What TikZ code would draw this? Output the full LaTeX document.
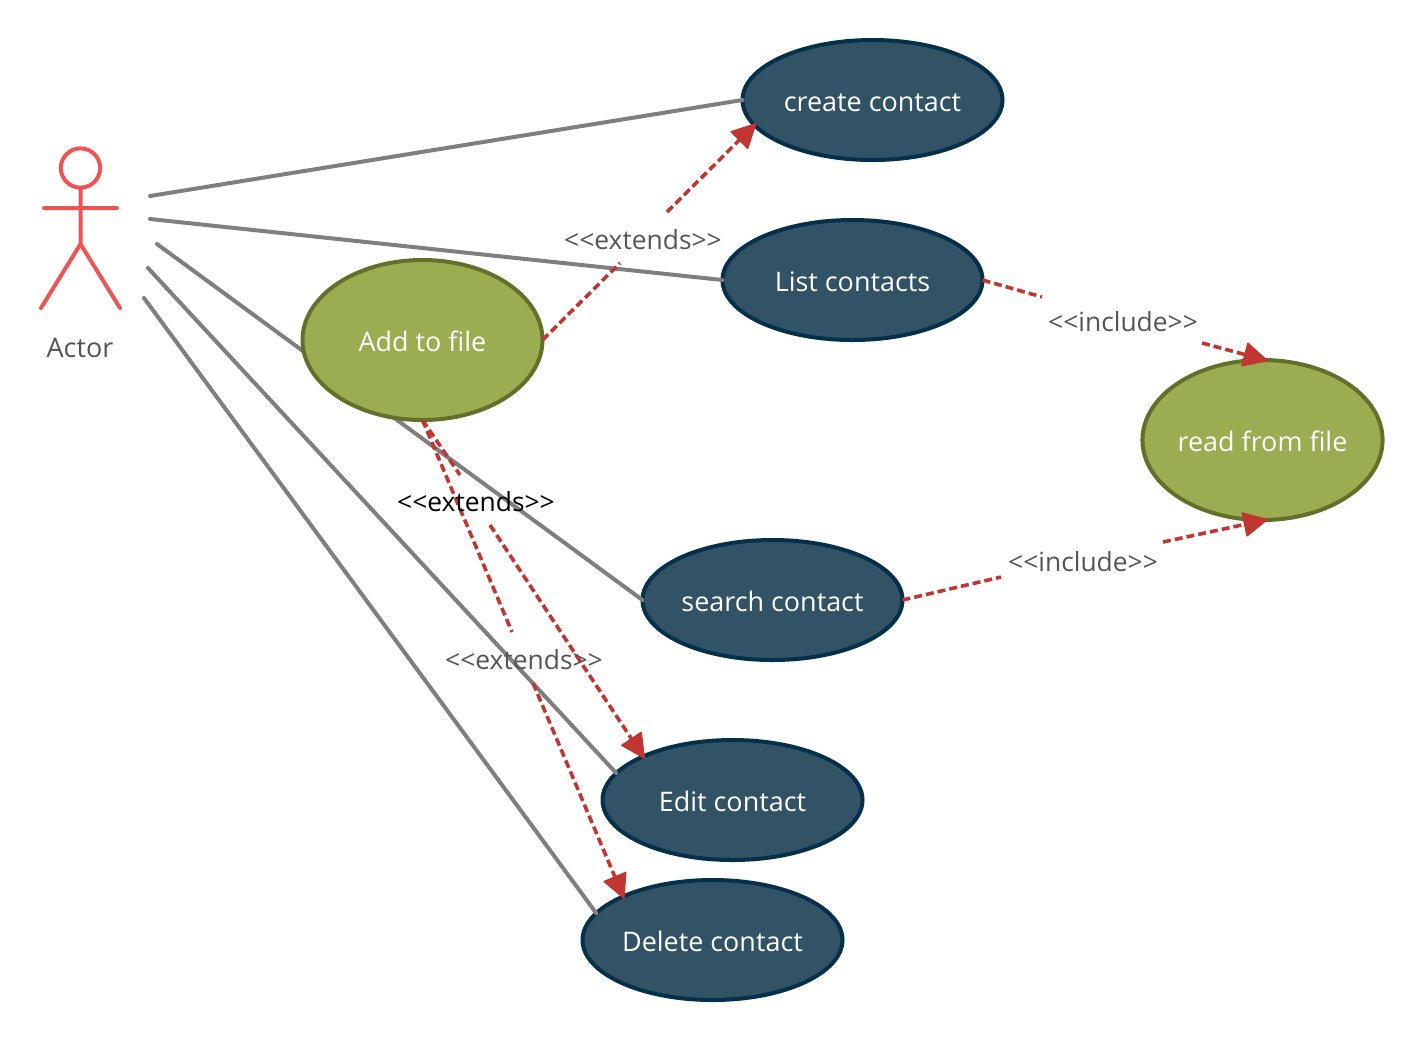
\documentclass[tikz,border=0pt]{standalone}
\usepackage{fontspec}
\setmainfont{Open Sans}
\usetikzlibrary{arrows.meta,shapes.geometric}
\definecolor{usecase}{HTML}{315365}
\definecolor{usecaseline}{HTML}{04304A}
\definecolor{filecase}{HTML}{9BAD51}
\definecolor{fileline}{HTML}{63702A}
\definecolor{redline}{HTML}{C13631}
\definecolor{actorline}{HTML}{EF5455}
\definecolor{assocline}{HTML}{7F7F7F}
\definecolor{labeltext}{HTML}{555555}
\tikzset{
	usebox/.style={ellipse,draw=usecaseline,fill=usecase,line width=3pt,minimum width=195pt,minimum height=90pt,text=white,inner sep=0pt,outer sep=0pt,text height=17pt,text depth=0pt},
	filebox/.style={ellipse,draw=fileline,fill=filecase,line width=3pt,minimum width=180pt,minimum height=120pt,text=white,inner sep=0pt,outer sep=0pt,text height=17pt,text depth=0pt},
	assoc/.style={draw=assocline,line width=3pt,line cap=round},
	dep/.style={draw=redline,line width=2.7pt,dash pattern=on 6pt off 3pt},
	deptip/.style={dep,shorten >=-2pt,-{Triangle[length=19pt,width=19pt,line width=1pt,round,fill=redline]}},
	deplabel/.style={text=labeltext,font=\fontsize{19.8}{24}\selectfont}
}
\begin{document}
\begin{tikzpicture}[x=0.75pt,y=-0.75pt,line join=round,font=\fontsize{20.2}{24}\selectfont]
	\useasboundingbox (0,0) rectangle (1423,1040);
	\path
	(150,196) coordinate (Aa)
	(150,219) coordinate (Ab)
	(157,244) coordinate (Ac)
	(148,268) coordinate (Ad)
	(144,298) coordinate (Ae)
	(620,263) coordinate (Ca)
	(667,212) coordinate (Cb)
	(1042,297) coordinate (La)
	(1202,343) coordinate (Lb)
	(1001,577) coordinate (Sa)
	(1163,542) coordinate (Sb)
	(460,475) coordinate (Ea)
	(490,525) coordinate (Eb)
	(512,632) coordinate (Da)
	(533,683) coordinate (Db)
	;
	% actor
	\node[circle,draw=actorline,line width=3pt,minimum size=29.5pt,inner sep=0pt] (head) at (80.5,168) {};
	\path (44,208) coordinate (armL) (117,208) coordinate (armR)
	(80.5,244) coordinate (hip) (41,308) coordinate (legL) (120,308) coordinate (legR);
	\draw[draw=actorline,line width=3pt,line cap=round] (head.south)--(hip) (armL)--(armR) (legL)--(hip)--(legR);
	\node[text=labeltext] (actor) at (80,348) {Actor};
	% use cases
	\node[usebox] (create) at (872.5,100) {create contact};
	\node[usebox] (list) at (852.5,280) {List contacts};
	\node[usebox] (search) at (772.5,600) {search contact};
	\node[usebox] (edit) at (732.5,800) {Edit contact};
	\node[usebox] (delete) at (712.5,940) {Delete contact};
	\node[filebox] (read) at (1262.5,440) {read from file};
	% actor lines
	\draw[assoc] (Aa)--(create.west);
	\draw[assoc] (Ab)--(list.west);
	\draw[assoc] (Ac)--(search.west);
	\draw[assoc] (Ad)--(edit.167);
	\draw[assoc] (Ae)--(delete.167);
	\node[filebox] (add) at (422.5,340) {Add to file};
	% dependencies
	\draw[dep] (add.east)--(Ca);
	\draw[deptip] (Cb)--(create.192);
	\draw[dep] (list.east)--(La);
	\draw[deptip] (Lb)--(read.88);
	\draw[dep] (search.east)--(Sa);
	\draw[deptip] (Sb)--(read.272);
	\draw[dep] (add.south)--(Ea);
	\draw[deptip] (Eb)--(edit.154);
	\draw[dep] (add.south)--(Da);
	\draw[deptip] (Db)--(delete.154);
	% labels
	\node[deplabel] (lc) at (643,239.5) {<{}<extends>{}>};
	\node[deplabel] (ll) at (1123,321.5) {<{}<include>{}>};
	\node[deplabel] (ls) at (1083,561.5) {<{}<include>{}>};
	\node[deplabel,text=black] (le) at (476,501.5) {<{}<extends>{}>};
	\node[deplabel] (ld) at (524,659.5) {<{}<extends>{}>};
\end{tikzpicture}
\end{document}
